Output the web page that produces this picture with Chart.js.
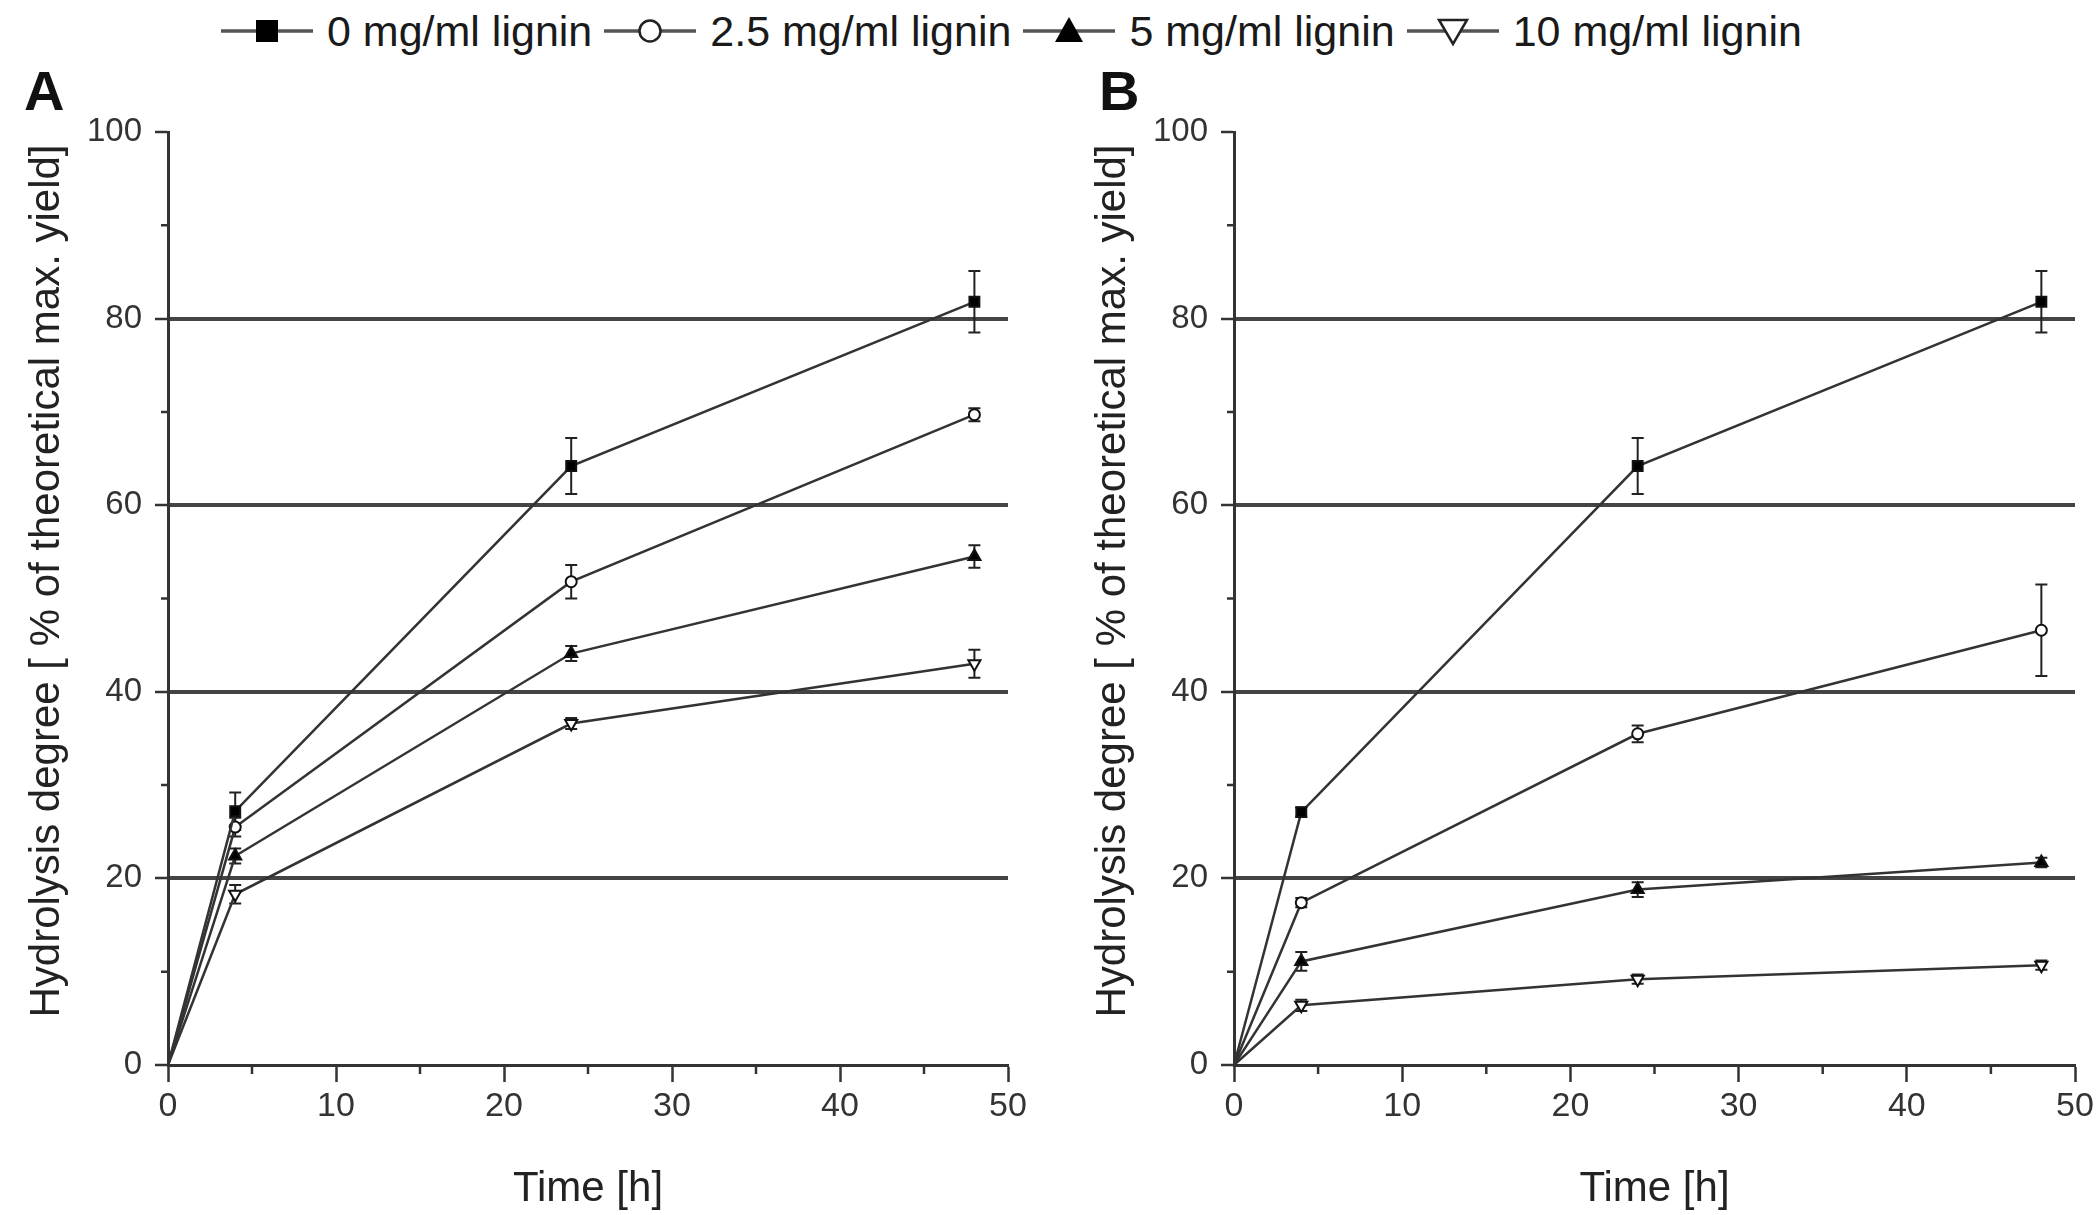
<!DOCTYPE html>
<html>
<head>
<meta charset="utf-8">
<script src="https://cdn.jsdelivr.net/npm/chart.js@4.4.0/dist/chart.umd.min.js"></script>
<style>
  body { margin: 0; background: #fff; width: 2100px; height: 1215px; overflow: hidden; position: relative; font-family: 'Liberation Sans', Arial, sans-serif; }
  .panel { position: absolute; top: 0; width: 1050px; height: 1215px; }
  .letra { position: absolute; top: 58px; font-weight: bold; font-size: 56px; color: #111; }
  #leyenda { position: absolute; left: 221px; top: 6px; height: 50px; display: flex; align-items: center; font-size: 43px; color: #1a1a1a; white-space: nowrap; }
  #leyenda span.txt { margin: 0 12px 0 14px; }
</style>
</head>
<body>

<div id="leyenda"></div>
<div class="panel" style="left:0"><canvas id="graficoA"></canvas></div>
<div class="panel" style="left:1050px"><canvas id="graficoB"></canvas></div>
<div class="letra" style="left:24px">A</div>
<div class="letra" style="left:1099px">B</div>

<script>
// datos
const tiempos = [0, 4, 24, 48];
const series = ['0 mg/ml lignin', '2.5 mg/ml lignin', '5 mg/ml lignin', '10 mg/ml lignin'];
const ticksX = [0, 10, 20, 30, 40, 50];
const ticksY = [0, 20, 40, 60, 80, 100];

// panel A
const a0 = [0, 27.2, 64.2, 81.8];
const a25 = [0, 25.5, 51.8, 69.7];
const a5 = [0, 22.4, 44.1, 54.5];
const a10 = [0, 18.3, 36.6, 43.0];
const errA0 = [0, 2.0, 3.0, 3.3];
const errA25 = [0, 1.0, 1.8, 0.7];
const errA5 = [0, 0.8, 0.8, 1.2];
const errA10 = [0, 1.0, 0.6, 1.5];

// panel B
const b0 = [0, 27.1, 64.2, 81.8];
const b25 = [0, 17.4, 35.5, 46.6];
const b5 = [0, 11.1, 18.8, 21.7];
const b10 = [0, 6.4, 9.2, 10.7];
const errB0 = [0, 0.5, 3.0, 3.3];
const errB25 = [0, 0.5, 0.9, 4.9];
const errB5 = [0, 1.0, 0.8, 0.5];
const errB10 = [0, 0.6, 0.5, 0.5];

// estilo de marcadores por serie
const marcadores = [
    { style: 'rect', radius: 7, fill: '#000', rotation: 0 },
    { style: 'circle', radius: 5.5, fill: '#fff', rotation: 0 },
    { style: 'triangle', radius: 7, fill: '#000', rotation: 0 },
    { style: 'triangle', radius: 7, fill: '#fff', rotation: 180 }
];

Chart.defaults.font.family = "'Liberation Sans', Arial, sans-serif";
Chart.defaults.color = '#333';

// leyenda comun en html
function svgMarcador(i) {
    let forma = '';
    if (i === 0) forma = '<rect x="35" y="9" width="22" height="22" fill="#000"/>';
    if (i === 1) forma = '<circle cx="46" cy="20" r="10.5" fill="#fff" stroke="#222" stroke-width="2.5"/>';
    if (i === 2) forma = '<polygon points="46,6 60,31 32,31" fill="#000"/>';
    if (i === 3) forma = '<polygon points="32,9 60,9 46,33" fill="#fff" stroke="#222" stroke-width="2.5"/>';
    return '<svg width="92" height="40"><line x1="0" y1="20" x2="92" y2="20" stroke="#555" stroke-width="3.5"/>' + forma + '</svg>';
}
let htmlLeyenda = '';
series.forEach(function(nombre, i) {
    htmlLeyenda += svgMarcador(i) + '<span class="txt">' + nombre + '</span>';
});
document.getElementById('leyenda').innerHTML = htmlLeyenda;

// barras de error y ticks menores
const extras = {
    id: 'extras',
    beforeDatasetsDraw(chart, args, opts) {
        const ctx = chart.ctx;
        const y = chart.scales.y;
        ctx.save();
        ctx.strokeStyle = '#222';
        ctx.lineWidth = 2;
        chart.data.datasets.forEach(function(ds, i) {
            const meta = chart.getDatasetMeta(i);
            meta.data.forEach(function(pt, j) {
                const e = opts.errores[i][j];
                if (!e) return;
                const v = ds.data[j].y;
                const arriba = y.getPixelForValue(v + e);
                const abajo = y.getPixelForValue(v - e);
                ctx.beginPath();
                ctx.moveTo(pt.x, arriba); ctx.lineTo(pt.x, abajo);
                ctx.moveTo(pt.x - 6, arriba); ctx.lineTo(pt.x + 6, arriba);
                ctx.moveTo(pt.x - 6, abajo); ctx.lineTo(pt.x + 6, abajo);
                ctx.stroke();
            });
        });
        ctx.restore();
    },
    afterDraw(chart) {
        const ctx = chart.ctx;
        const x = chart.scales.x, y = chart.scales.y;
        ctx.save();
        ctx.strokeStyle = '#333';
        ctx.lineWidth = 2.5;
        ctx.beginPath();
        [5, 15, 25, 35, 45].forEach(function(v) {
            const px = x.getPixelForValue(v);
            ctx.moveTo(px, x.top); ctx.lineTo(px, x.top + 9);
        });
        [10, 30, 50, 70, 90].forEach(function(v) {
            const py = y.getPixelForValue(v);
            ctx.moveTo(y.right - 7, py); ctx.lineTo(y.right, py);
        });
        ctx.stroke();
        ctx.restore();
    }
};

function crearGrafico(id, valores, errores, anchoY, derecha, tituloPad) {
    const datasets = valores.map(function(vals, i) {
        const m = marcadores[i];
        return {
            label: series[i],
            data: tiempos.map(function(t, k) { return { x: t, y: vals[k] }; }),
            borderColor: '#333',
            borderWidth: 2.5,
            pointStyle: m.style,
            rotation: m.rotation,
            pointRadius: function(c) { return c.dataIndex === 0 ? 0 : m.radius; },
            pointBackgroundColor: m.fill,
            pointBorderColor: '#111',
            pointBorderWidth: 2,
            tension: 0
        };
    });

    new Chart(document.getElementById(id), {
        type: 'line',
        data: { datasets: datasets },
        options: {
            responsive: true,
            maintainAspectRatio: false,
            animation: false,
            layout: { padding: { left: 0, top: 132, right: derecha, bottom: 0 } },
            plugins: {
                legend: { display: false },
                tooltip: { enabled: false },
                extras: { errores: errores }
            },
            scales: {
                x: {
                    type: 'linear',
                    min: 0, max: 50,
                    border: { color: '#333', width: 3 },
                    grid: {
                        drawOnChartArea: false,
                        tickLength: 17,
                        tickWidth: 2.5,
                        tickColor: function(c) { return ticksX.includes(c.tick.value) ? '#333' : 'rgba(0,0,0,0)'; }
                    },
                    ticks: {
                        stepSize: 5,
                        autoSkip: false,
                        maxRotation: 0,
                        padding: 4,
                        font: { size: 34 },
                        callback: function(v) { return ticksX.includes(v) ? v : ''; }
                    },
                    title: {
                        display: true,
                        text: 'Time [h]',
                        color: '#222',
                        font: { size: 42 },
                        padding: { top: 0, bottom: 0 }
                    },
                    afterFit: function(s) { s.height = 150; s.paddingLeft = 0; s.paddingRight = 0; }
                },
                y: {
                    min: 0, max: 100,
                    border: { color: '#333', width: 3 },
                    grid: {
                        lineWidth: 4,
                        color: function(c) { return [20, 40, 60, 80].includes(c.tick.value) ? '#444' : 'rgba(0,0,0,0)'; },
                        tickLength: 13,
                        tickWidth: 2.5,
                        tickColor: function(c) { return ticksY.includes(c.tick.value) ? '#333' : 'rgba(0,0,0,0)'; }
                    },
                    ticks: {
                        stepSize: 10,
                        autoSkip: false,
                        padding: 13,
                        font: { size: 33 },
                        callback: function(v) { return ticksY.includes(v) ? v : ''; }
                    },
                    title: {
                        display: true,
                        // espacios al inicio para subir un poco el texto
                        text: '   Hydrolysis degree [ % of theoretical max. yield]',
                        color: '#222',
                        font: { size: 42 },
                        padding: { top: tituloPad, bottom: 0 }
                    },
                    afterFit: function(s) { s.width = anchoY; s.paddingTop = 0; s.paddingBottom = 0; }
                }
            }
        },
        plugins: [extras]
    });
}

crearGrafico('graficoA', [a0, a25, a5, a10], [errA0, errA25, errA5, errA10], 168, 42, 22);
crearGrafico('graficoB', [b0, b25, b5, b10], [errB0, errB25, errB5, errB10], 184, 25, 38);
</script>
</body>
</html>
